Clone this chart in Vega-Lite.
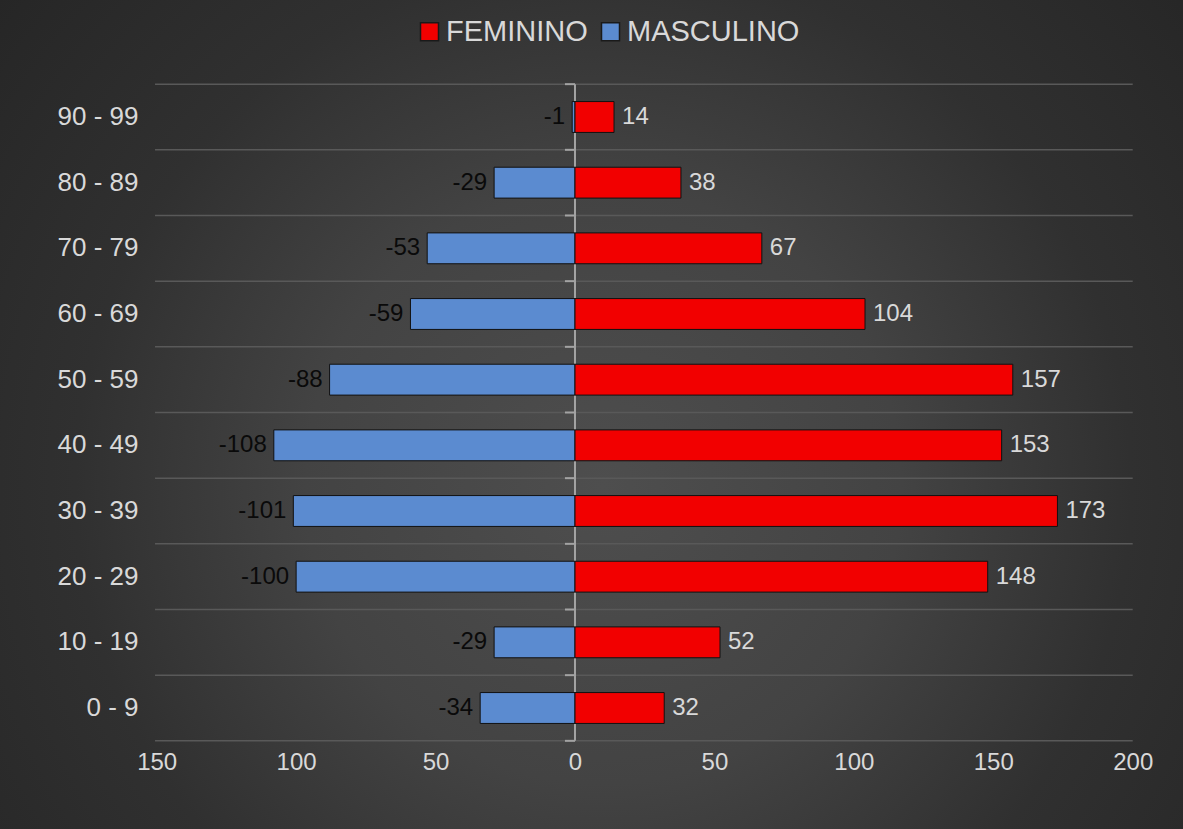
{
  "$schema": "https://vega.github.io/schema/vega-lite/v6.json",
  "width": 1183,
  "height": 829,
  "autosize": {"type": "none"},
  "padding": 0,
  "background": "#252525",
  "config": {
    "font": "Liberation Sans",
    "view": {
      "stroke": null,
      "fill": {
        "gradient": "radial",
        "x1": 0.51, "y1": 0.56, "r1": 0,
        "x2": 0.51, "y2": 0.56, "r2": 0.72,
        "stops": [
          {"offset": 0, "color": "#4e4e4e"},
          {"offset": 0.35, "color": "#434343"},
          {"offset": 0.62, "color": "#303030"},
          {"offset": 1, "color": "#232323"}
        ]
      }
    }
  },
  "datasets": {
    "pop": [
      {"faixa": "90 - 99", "sexo": "MASCULINO", "valor": -1},
      {"faixa": "80 - 89", "sexo": "MASCULINO", "valor": -29},
      {"faixa": "70 - 79", "sexo": "MASCULINO", "valor": -53},
      {"faixa": "60 - 69", "sexo": "MASCULINO", "valor": -59},
      {"faixa": "50 - 59", "sexo": "MASCULINO", "valor": -88},
      {"faixa": "40 - 49", "sexo": "MASCULINO", "valor": -108},
      {"faixa": "30 - 39", "sexo": "MASCULINO", "valor": -101},
      {"faixa": "20 - 29", "sexo": "MASCULINO", "valor": -100},
      {"faixa": "10 - 19", "sexo": "MASCULINO", "valor": -29},
      {"faixa": "0 - 9", "sexo": "MASCULINO", "valor": -34},
      {"faixa": "90 - 99", "sexo": "FEMININO", "valor": 14},
      {"faixa": "80 - 89", "sexo": "FEMININO", "valor": 38},
      {"faixa": "70 - 79", "sexo": "FEMININO", "valor": 67},
      {"faixa": "60 - 69", "sexo": "FEMININO", "valor": 104},
      {"faixa": "50 - 59", "sexo": "FEMININO", "valor": 157},
      {"faixa": "40 - 49", "sexo": "FEMININO", "valor": 153},
      {"faixa": "30 - 39", "sexo": "FEMININO", "valor": 173},
      {"faixa": "20 - 29", "sexo": "FEMININO", "valor": 148},
      {"faixa": "10 - 19", "sexo": "FEMININO", "valor": 52},
      {"faixa": "0 - 9", "sexo": "FEMININO", "valor": 32}
    ],
    "limites": [
      {"b": 0}, {"b": 1}, {"b": 2}, {"b": 3}, {"b": 4}, {"b": 5},
      {"b": 6}, {"b": 7}, {"b": 8}, {"b": 9}, {"b": 10}
    ]
  },
  "resolve": {"scale": {"y": "independent"}, "axis": {"y": "independent"}},
  "layer": [
    {
      "data": {"name": "limites"},
      "layer": [
        {
          "mark": {"type": "rule", "color": "#595959", "strokeWidth": 1.5},
          "encoding": {
            "x": {"datum": -150.6, "type": "quantitative"},
            "x2": {"datum": 200},
            "y": {"field": "b", "type": "quantitative"}
          }
        },
        {
          "mark": {"type": "rule", "color": "#a3a3a3", "strokeWidth": 2},
          "encoding": {
            "x": {"datum": -3.6, "type": "quantitative"},
            "x2": {"datum": 0},
            "y": {"field": "b", "type": "quantitative"}
          }
        },
        {
          "mark": {"type": "rule", "color": "#a3a3a3", "strokeWidth": 2},
          "encoding": {
            "x": {"datum": 0, "type": "quantitative"},
            "y": {"aggregate": "min", "field": "b", "type": "quantitative"},
            "y2": {"aggregate": "max", "field": "b"}
          }
        }
      ],
      "encoding": {
        "y": {
          "type": "quantitative",
          "scale": {"domain": [-1.3425, 11.2816], "nice": false, "zero": false},
          "axis": null
        }
      }
    },
    {
      "data": {"name": "pop"},
      "encoding": {
        "y": {
          "field": "faixa",
          "type": "nominal",
          "scale": {
            "domain": ["90 - 99", "80 - 89", "70 - 79", "60 - 69", "50 - 59", "40 - 49", "30 - 39", "20 - 29", "10 - 19", "0 - 9"],
            "range": [84.16, 740.84],
            "paddingInner": 0.53,
            "paddingOuter": 0.265
          },
          "axis": {
            "orient": "left",
            "offset": -157,
            "title": null,
            "domain": false,
            "ticks": false,
            "grid": false,
            "labelPadding": 19,
            "labelFontSize": 26,
            "labelColor": "#d9d9d9",
            "labelFont": "Liberation Sans"
          }
        },
        "x": {
          "field": "valor",
          "type": "quantitative",
          "scale": {"domain": [-206.19, 218.03], "nice": false, "zero": false},
          "axis": {
            "orient": "bottom",
            "offset": -88,
            "title": null,
            "values": [-150, -100, -50, 0, 50, 100, 150, 200],
            "labelExpr": "format(abs(datum.value), 'd')",
            "domain": false,
            "ticks": false,
            "grid": false,
            "labelPadding": 9,
            "labelFontSize": 24,
            "labelColor": "#d9d9d9",
            "labelFont": "Liberation Sans"
          }
        }
      },
      "layer": [
        {
          "mark": {"type": "bar", "stroke": "#111111", "strokeWidth": 1},
          "encoding": {
            "x2": {"datum": 0},
            "color": {
              "field": "sexo",
              "type": "nominal",
              "scale": {"domain": ["FEMININO", "MASCULINO"], "range": ["#f20000", "#5b8bd0"]},
              "legend": {
                "title": null,
                "orient": "none",
                "direction": "horizontal",
                "legendX": 415,
                "legendY": 17,
                "symbolType": "square",
                "symbolSize": 324,
                "symbolStrokeColor": "#1a1a1a",
                "symbolStrokeWidth": 1.5,
                "labelFontSize": 29,
                "labelColor": "#d9d9d9",
                "labelFont": "Liberation Sans",
                "labelLimit": 400,
                "labelOffset": 2,
                "columnPadding": 8,
                "padding": 0
              }
            }
          }
        },
        {
          "transform": [{"filter": "datum.sexo === 'MASCULINO'"}],
          "mark": {"type": "text", "align": "right", "baseline": "middle", "dx": -7, "fontSize": 24, "color": "#0a0a0a"},
          "encoding": {"text": {"field": "valor", "type": "nominal"}}
        },
        {
          "transform": [{"filter": "datum.sexo === 'FEMININO'"}],
          "mark": {"type": "text", "align": "left", "baseline": "middle", "dx": 8, "fontSize": 24, "color": "#d9d9d9"},
          "encoding": {"text": {"field": "valor", "type": "nominal"}}
        }
      ]
    }
  ]
}
